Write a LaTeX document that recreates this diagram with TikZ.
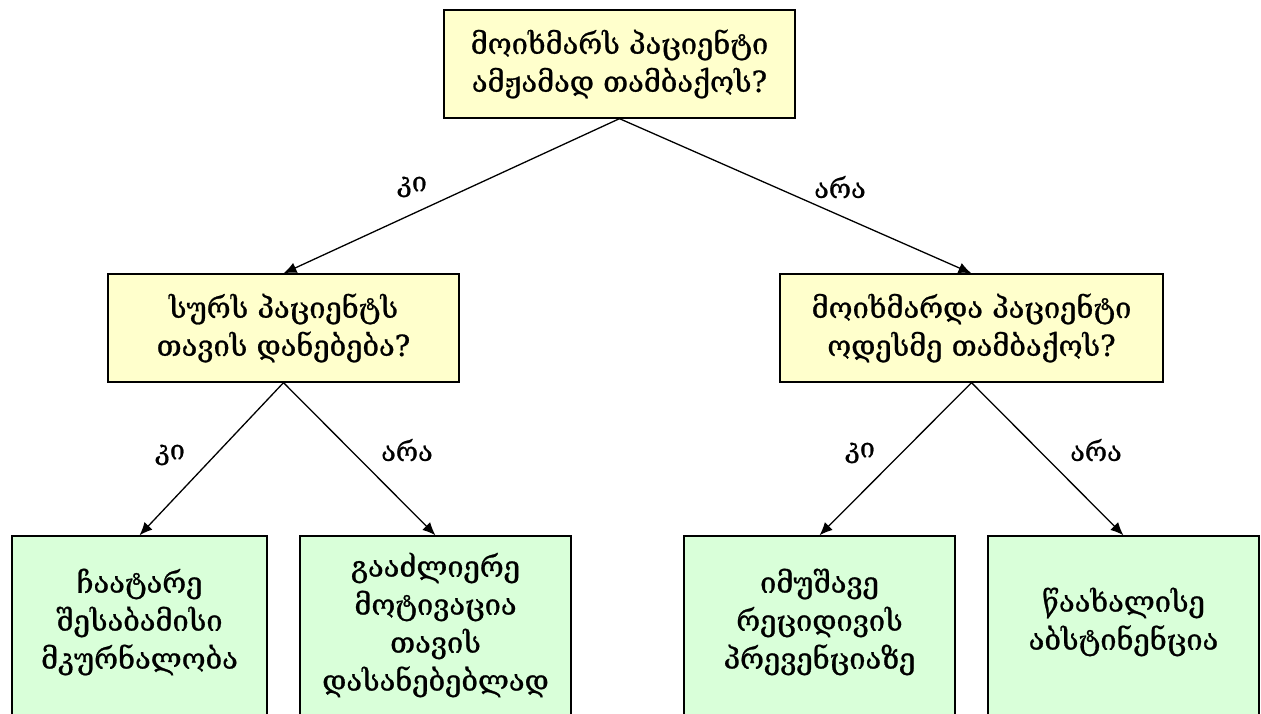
\documentclass[tikz,border=0pt]{standalone}
\usepackage{fontspec}
\setmainfont[FakeBold=0.9,AutoFakeBold=0.9]{DejaVu Serif}
\usetikzlibrary{arrows.meta}
\definecolor{qfill}{RGB}{255,255,204}
\definecolor{afill}{RGB}{217,255,217}
\begin{document}
\begin{tikzpicture}[x=1pt,y=-1pt,
  box/.style={draw=black,line width=1.3pt,align=center,inner sep=0pt,
    font=\fontsize{29}{38}\selectfont\bfseries},
  qbox/.style={box,fill=qfill},
  abox/.style={draw=black,line width=1.3pt,fill=afill,inner sep=0pt},
  atext/.style={align=center,inner sep=0pt,font=\fontsize{29}{38}\selectfont\bfseries},
  conn/.style={line width=1.3pt,-{Latex[length=13pt,width=11pt]}},
  lbl/.style={font=\fontsize{27}{30}\selectfont\bfseries,inner sep=0pt}]
\useasboundingbox (0,0) rectangle (1261,714);
\node[qbox,minimum width=351,minimum height=108] (root) at (619.5,64) {მოიხმარს პაციენტი\\ამჟამად თამბაქოს?};
\node[qbox,minimum width=351,minimum height=108] (l) at (283.5,328) {სურს პაციენტს\\თავის დანებება?};
\node[qbox,minimum width=383,minimum height=108] (r) at (971.5,328) {მოიხმარდა პაციენტი\\ოდესმე თამბაქოს?};
\node[abox,minimum width=255,minimum height=184] (b1) at (139.5,628) {};
\node[abox,minimum width=271,minimum height=184] (b2) at (435.5,628) {};
\node[abox,minimum width=271,minimum height=184] (b3) at (819.5,628) {};
\node[abox,minimum width=271,minimum height=184] (b4) at (1123.5,628) {};
\node[atext] (b1t) at (139.5,622) {ჩაატარე\\შესაბამისი\\მკურნალობა};
\node[atext] (b2t) at (435.5,625) {გააძლიერე\\მოტივაცია\\თავის\\დასანებებლად};
\node[atext] (b3t) at (819.5,622) {იმუშავე\\რეციდივის\\პრევენციაზე};
\node[atext] (b4t) at (1123.5,622) {წაახალისე\\აბსტინენცია};
\draw[conn] (root.south) -- (l.north);
\draw[conn] (root.south) -- (r.north);
\draw[conn] (l.south) -- (b1.north);
\draw[conn] (l.south) -- (b2.north);
\draw[conn] (r.south) -- (b3.north);
\draw[conn] (r.south) -- (b4.north);
\node[lbl] (k1) at (412,187) {კი};
\node[lbl] (a1) at (840,187) {არა};
\node[lbl] (k2) at (170,455) {კი};
\node[lbl] (a2) at (407,450) {არა};
\node[lbl] (k3) at (860,453) {კი};
\node[lbl] (a3) at (1096,450) {არა};
\end{tikzpicture}
\end{document}
